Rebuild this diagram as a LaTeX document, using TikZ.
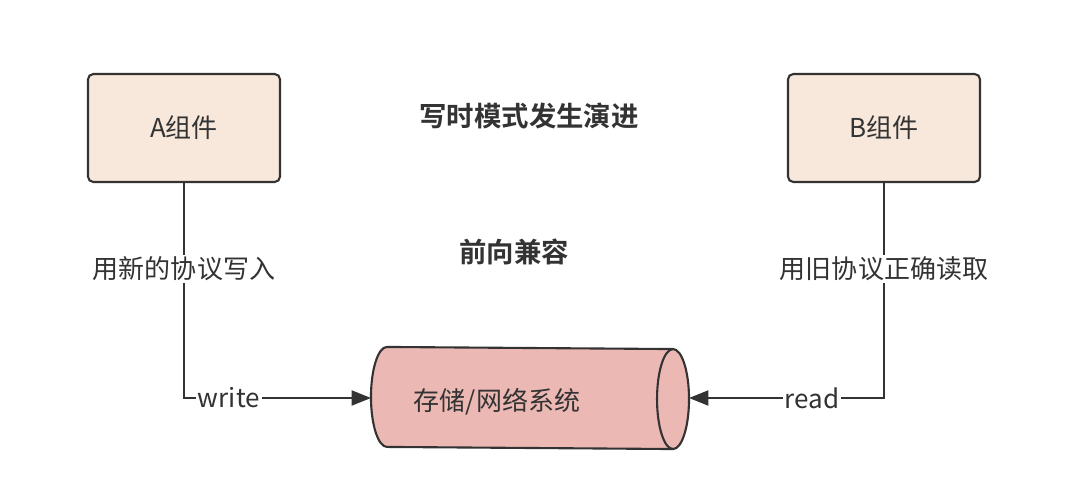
\documentclass[tikz,border=0pt]{standalone}
\usepackage{fontspec}
\setmainfont{Noto Sans CJK SC}[BoldFont={Noto Sans CJK SC Bold}]
\usetikzlibrary{arrows.meta}
\definecolor{boxfill}{HTML}{F8E8DC}
\definecolor{cylfill}{HTML}{ECB8B4}
\definecolor{inkgray}{HTML}{333333}
\begin{document}
\begin{tikzpicture}[x=0.02cm, y=-0.02cm, line width=1.2pt, draw=inkgray,
  font=\fontsize{14.8}{17}\selectfont, text=inkgray,
  >={Triangle[length=11pt, width=8.5pt]},
  comp/.style={draw=inkgray, fill=boxfill, rounded corners=3pt, minimum width=3.84cm, minimum height=2.16cm},
  store/.style={minimum width=6.32cm, minimum height=2cm, inner sep=0pt},
  endcap/.style={x radius=0.32cm, y radius=1cm},
  tag/.style={fill=white, inner sep=1pt},
  head/.style={font=\fontsize{15.6}{18}\selectfont\bfseries}]
\useasboundingbox (0,0) rectangle (1080,499);

\node[comp](A) at (184,128){A组件};
\node[comp](B) at (884,128){B组件};
\node[store](S) at (530,398){};
% cylinder body
\draw[inkgray, fill=cylfill] ([xshift=0.32cm]S.north west) arc[start angle=90, end angle=270, endcap]
  -- ([xshift=-0.32cm]S.south east) arc[start angle=-90, end angle=90, endcap] -- cycle;
\draw[inkgray] ([xshift=-0.32cm]S.south east) arc[start angle=270, end angle=90, endcap];
\node(Slabel) at (497,402){存储/网络系统};

\node[head](T1) at (529,116){写时模式发生演进};
\node[head](T2) at (514,252){前向兼容};

\draw[->, inkgray](A.south) |- node[tag, pos=0.2]{用新的协议写入} node[tag, pos=0.62]{write} (S.west);
\draw[->, inkgray](B.south) |- node[tag, pos=0.2]{用旧协议正确读取} node[tag, pos=0.685]{read} (S.east);
\end{tikzpicture}
\end{document}
